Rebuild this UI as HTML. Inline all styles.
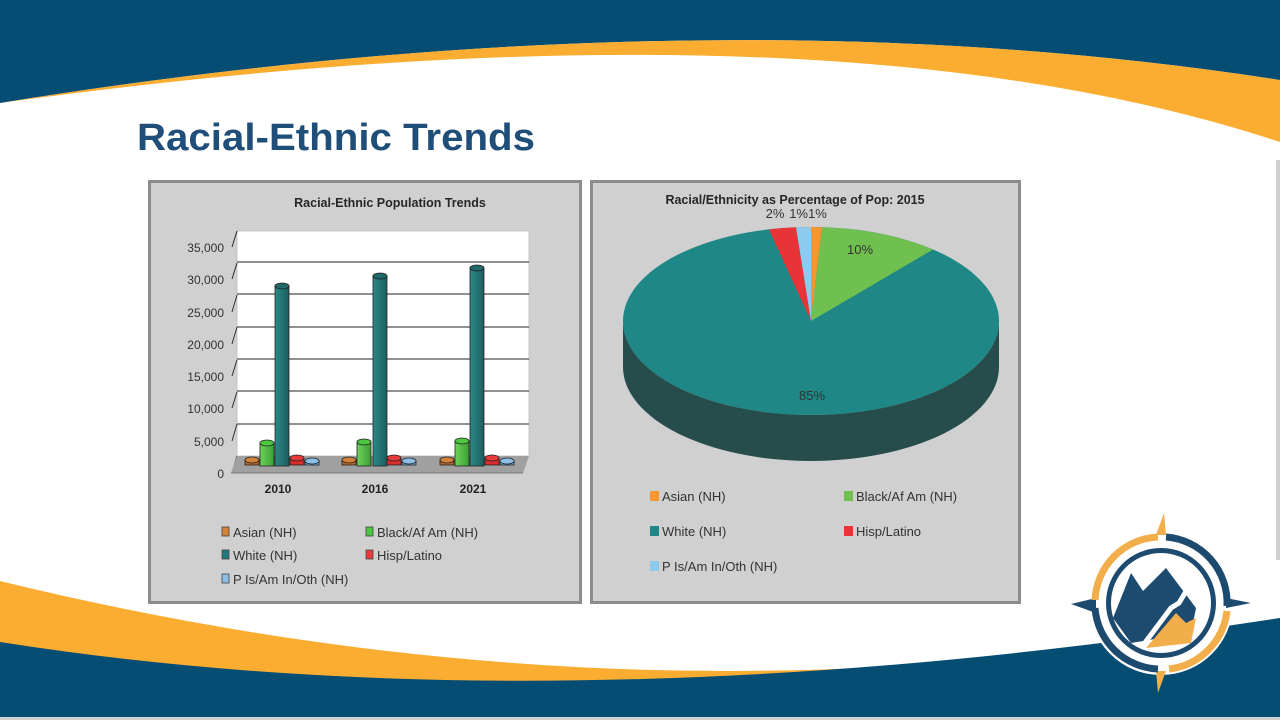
<!DOCTYPE html>
<html><head><meta charset="utf-8"><style>html,body{margin:0;padding:0;background:#fff}svg{display:block}</style></head>
<body>
<svg width="1280" height="720" viewBox="0 0 1280 720" xmlns="http://www.w3.org/2000/svg" font-family="Liberation Sans, sans-serif">
<rect width="1280" height="720" fill="#fff"/>
<!-- top banner -->
<path d="M0,0 H1280 V80 Q700,-10 0,103 Z" fill="#054d73"/>
<path d="M0,103 Q700,-10 1280,80 V142 Q820,-10 0,103 Z" fill="#fbad32"/>
<text x="137" y="150" font-size="38" font-weight="bold" fill="#1f4e79" textLength="398" lengthAdjust="spacingAndGlyphs">Racial-Ethnic Trends</text>
<rect x="1276" y="160" width="4" height="400" fill="#d0d0d0"/>
<!-- bottom banner -->
<path d="M0,581 Q650,740 1280,618 V720 H0 Z" fill="#fbad32"/>
<path d="M0,642 Q560,730 1280,618 V717 H0 Z" fill="#054d73"/>
<rect x="0" y="717" width="1280" height="3" fill="#d0d0d0"/>

<!-- Left panel -->
<rect x="149.5" y="181.5" width="431" height="421" fill="#d0d0d0" stroke="#8c8c8c" stroke-width="3"/>
<text x="390" y="207" font-size="12.5" font-weight="bold" fill="#262626" text-anchor="middle">Racial-Ethnic Population Trends</text>
<rect x="237" y="231" width="292" height="225" fill="#fff" stroke="#bbb" stroke-width="0.8"/>
<g stroke="#222" stroke-width="1">
<line x1="237" y1="262" x2="529" y2="262"/><line x1="237" y1="294" x2="529" y2="294"/>
<line x1="237" y1="327" x2="529" y2="327"/><line x1="237" y1="359" x2="529" y2="359"/>
<line x1="237" y1="391" x2="529" y2="391"/><line x1="237" y1="424" x2="529" y2="424"/>
</g>
<g stroke="#333" stroke-width="1">
<line x1="232" y1="247" x2="237" y2="231"/><line x1="232" y1="279" x2="237" y2="263"/>
<line x1="232" y1="312" x2="237" y2="295"/><line x1="232" y1="344" x2="237" y2="327"/>
<line x1="232" y1="376" x2="237" y2="360"/><line x1="232" y1="408" x2="237" y2="392"/>
<line x1="232" y1="441" x2="237" y2="424"/><line x1="232" y1="473" x2="237" y2="456"/>
</g>
<polygon points="231,473 523,473 529,456 237,456" fill="#a0a0a0"/>
<line x1="231" y1="473" x2="523" y2="473" stroke="#777"/>
<g font-size="12" fill="#333" text-anchor="end">
<text x="224" y="252">35,000</text><text x="224" y="284">30,000</text><text x="224" y="317">25,000</text>
<text x="224" y="349">20,000</text><text x="224" y="381">15,000</text><text x="224" y="413">10,000</text>
<text x="224" y="446">5,000</text><text x="224" y="478">0</text>
</g>
<g font-size="12" font-weight="bold" fill="#222" text-anchor="middle">
<text x="278" y="493">2010</text><text x="375" y="493">2016</text><text x="473" y="493">2021</text>
</g>
<defs>
<linearGradient id="gw" x1="0" x2="1"><stop offset="0" stop-color="#2a8a88"/><stop offset="1" stop-color="#1c5e5e"/></linearGradient>
<linearGradient id="gg" x1="0" x2="1"><stop offset="0" stop-color="#6ed35a"/><stop offset="1" stop-color="#3b9e35"/></linearGradient>
</defs>
<g stroke="#222" stroke-width="0.8">
<!-- 2010 -->
<rect x="245" y="460" width="14" height="5" fill="#b8692a"/><ellipse cx="252" cy="460" rx="7" ry="3" fill="#d5833a"/>
<rect x="260" y="443" width="14" height="23" fill="url(#gg)"/><ellipse cx="267" cy="443" rx="7" ry="3" fill="#4bc840"/>
<rect x="275" y="286" width="14" height="180" fill="url(#gw)"/><ellipse cx="282" cy="286" rx="7" ry="3" fill="#1f6a68"/>
<rect x="290" y="458" width="14" height="7" fill="#d92c2c"/><ellipse cx="297" cy="458" rx="7" ry="3" fill="#e83a3a"/>
<rect x="305" y="461" width="14" height="4" fill="#6fa9d8"/><ellipse cx="312" cy="461" rx="7" ry="3" fill="#8cc0e8"/>
<!-- 2016 -->
<rect x="342" y="460" width="14" height="5" fill="#b8692a"/><ellipse cx="349" cy="460" rx="7" ry="3" fill="#d5833a"/>
<rect x="357" y="442" width="14" height="24" fill="url(#gg)"/><ellipse cx="364" cy="442" rx="7" ry="3" fill="#4bc840"/>
<rect x="373" y="276" width="14" height="190" fill="url(#gw)"/><ellipse cx="380" cy="276" rx="7" ry="3" fill="#1f6a68"/>
<rect x="387" y="458" width="14" height="7" fill="#d92c2c"/><ellipse cx="394" cy="458" rx="7" ry="3" fill="#e83a3a"/>
<rect x="402" y="461" width="14" height="4" fill="#6fa9d8"/><ellipse cx="409" cy="461" rx="7" ry="3" fill="#8cc0e8"/>
<!-- 2021 -->
<rect x="440" y="460" width="14" height="5" fill="#b8692a"/><ellipse cx="447" cy="460" rx="7" ry="3" fill="#d5833a"/>
<rect x="455" y="441" width="14" height="25" fill="url(#gg)"/><ellipse cx="462" cy="441" rx="7" ry="3" fill="#4bc840"/>
<rect x="470" y="268" width="14" height="198" fill="url(#gw)"/><ellipse cx="477" cy="268" rx="7" ry="3" fill="#1f6a68"/>
<rect x="485" y="458" width="14" height="7" fill="#d92c2c"/><ellipse cx="492" cy="458" rx="7" ry="3" fill="#e83a3a"/>
<rect x="500" y="461" width="14" height="4" fill="#6fa9d8"/><ellipse cx="507" cy="461" rx="7" ry="3" fill="#8cc0e8"/>
</g>
<g font-size="13" fill="#333">
<rect x="222" y="527" width="7" height="9" fill="#d5833a" stroke="#444" stroke-width="0.8"/><text x="233" y="537">Asian (NH)</text>
<rect x="366" y="527" width="7" height="9" fill="#4bc840" stroke="#444" stroke-width="0.8"/><text x="377" y="537">Black/Af Am (NH)</text>
<rect x="222" y="550" width="7" height="9" fill="#1f7a78" stroke="#444" stroke-width="0.8"/><text x="233" y="560">White (NH)</text>
<rect x="366" y="550" width="7" height="9" fill="#e83a3a" stroke="#444" stroke-width="0.8"/><text x="377" y="560">Hisp/Latino</text>
<rect x="222" y="574" width="7" height="9" fill="#8cc0e8" stroke="#444" stroke-width="0.8"/><text x="233" y="584">P Is/Am In/Oth (NH)</text>
</g>

<!-- Right panel -->
<rect x="591.5" y="181.5" width="428" height="421" fill="#d0d0d0" stroke="#8c8c8c" stroke-width="3"/>
<text x="795" y="204" font-size="12.5" font-weight="bold" fill="#262626" text-anchor="middle">Racial/Ethnicity as Percentage of Pop: 2015</text>
<!-- pie side -->
<path d="M623,321 A188,94 0 0 0 999,321 V367 A188,94 0 0 1 623,367 Z" fill="#264c4c"/>
<!-- pie top -->
<g transform="translate(811,321)">
<ellipse cx="0" cy="0" rx="188" ry="94" fill="#1f8785"/>
<path d="M0,0 L0,-94 A188,94 0 0 1 11.1,-93.8 Z" fill="#f7952e"/>
<path d="M0,0 L11.1,-93.8 A188,94 0 0 1 122,-71.5 Z" fill="#70c050"/>
<path d="M0,0 L-42,-91.6 A188,94 0 0 1 -15,-93.7 Z" fill="#e93437"/>
<path d="M0,0 L-15,-93.7 A188,94 0 0 1 0,-94 Z" fill="#8ec9ee"/>
</g>
<g font-size="13" fill="#333" text-anchor="middle">
<text x="775" y="218">2%</text><text x="808" y="218">1%1%</text>
<text x="860" y="254">10%</text><text x="812" y="400">85%</text>
</g>
<g font-size="13" fill="#333">
<rect x="650" y="491" width="9" height="10" fill="#f7952e"/><text x="662" y="501">Asian (NH)</text>
<rect x="844" y="491" width="9" height="10" fill="#70c050"/><text x="856" y="501">Black/Af Am (NH)</text>
<rect x="650" y="526" width="9" height="10" fill="#1f8785"/><text x="662" y="536">White (NH)</text>
<rect x="844" y="526" width="9" height="10" fill="#e93437"/><text x="856" y="536">Hisp/Latino</text>
<rect x="650" y="561" width="9" height="10" fill="#8ec9ee"/><text x="662" y="571">P Is/Am In/Oth (NH)</text>
</g>

<!-- logo -->
<g transform="translate(1161,603)">
<circle r="72" fill="#fff"/>
<polygon points="-5,-68 5,-68 3,-90" fill="#f2ae4a"/>
<polygon points="-5,68 5,68 -3,90" fill="#f2ae4a"/>
<polygon points="-65,-5 -65,10 -90,1" fill="#1d4b70"/>
<polygon points="65,-5 65,5 90,0" fill="#1d4b70"/>
<path d="M-66,-3 A66,66 0 0 1 -3,-66" fill="none" stroke="#f2ae4a" stroke-width="7"/>
<path d="M5,-66 A66,66 0 0 1 66,3" fill="none" stroke="#1d4b70" stroke-width="7"/>
<path d="M66,8 A66,66 0 0 1 8,66" fill="none" stroke="#f2ae4a" stroke-width="7"/>
<path d="M-3,66 A66,66 0 0 1 -66,5" fill="none" stroke="#1d4b70" stroke-width="7"/>
<circle r="55" fill="#1d4b70"/>
<circle r="50" fill="#fff"/>
<path d="M-48,15 L-30,-30 L-18,-12 L5,-35 L35,5 L30,30 L-30,40 Z" fill="#1d4b70"/>
<path d="M-15,45 L15,10 L25,20 L35,15 L30,40 Z" fill="#f2ae4a"/>
<path d="M-20,45 L10,5 L18,0 L30,-20" stroke="#fff" stroke-width="5" fill="none"/>
</g>
</svg>
</body></html>
